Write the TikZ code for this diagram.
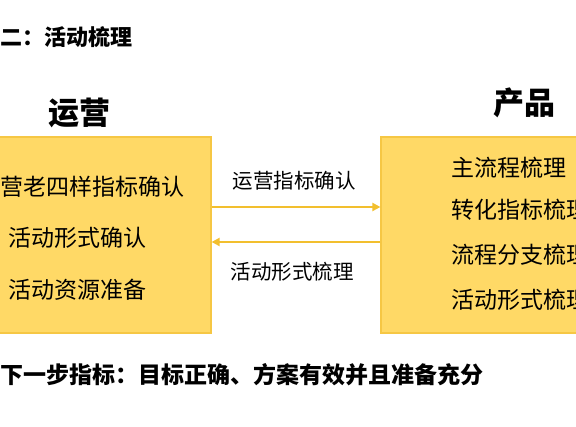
\documentclass[tikz,border=0pt]{standalone}
\usepackage{fontspec}
\newfontfamily\cjk{Noto Sans CJK SC}
\usetikzlibrary{arrows.meta}
\definecolor{boxfill}{HTML}{FFD966}
\definecolor{boxline}{HTML}{F6C744}
\definecolor{flowline}{HTML}{F2BF2E}
\tikzset{
  lane/.style={draw=boxline,fill=boxfill,line width=1.2pt,minimum height=196pt,inner sep=0pt},
  head/.style={font=\cjk\bfseries\fontsize{31}{34}\selectfont,inner sep=0pt},
  item/.style={font=\cjk\fontsize{23}{26}\selectfont,inner sep=0pt},
  tag/.style={font=\cjk\fontsize{20.5}{24}\selectfont,inner sep=0pt},
  note/.style={font=\cjk\bfseries\fontsize{22}{26}\selectfont,inner sep=0pt,anchor=west},
  flow/.style={draw=flowline,line width=2.6pt,-{Triangle[length=8pt,width=8pt]}}
}
\begin{document}
\begin{tikzpicture}[x=1pt,y=1pt]
    \useasboundingbox (0,0) rectangle (576,427);
    \clip (0,0) rectangle (576,427);
    %
    % -- Title and closing note
    \node[note] (title) at (0,390) {二：活动梳理};
    \node[note,font=\cjk\bfseries\fontsize{23}{26}\selectfont] (goal) at (0,52)
      {下一步指标：目标正确、方案有效并且准备充分};

    % -- The two lanes
    \node[lane,minimum width=220pt] (ops)  at (101,192) {};
    \node[lane,minimum width=220pt] (prod) at (491,192) {};
    \node[head] (opshead)  at (79,314)  {运营};
    \node[head] (prodhead) at (524,324) {产品};

    % -- Items of the operations lane
    \node[item] (ops1) at (93,240) {营老四样指标确认};
    \node[item] (ops2) at (78,189) {活动形式确认};
    \node[item] (ops3) at (78,137) {活动资源准备};

    % -- Items of the product lane
    \node[item,anchor=west] (prod1) at (451,259) {主流程梳理};
    \node[item,anchor=west] (prod2) at (451,217) {转化指标梳理};
    \node[item,anchor=west] (prod3) at (451,172) {流程分支梳理};
    \node[item,anchor=west] (prod4) at (451,127) {活动形式梳理};

    % -- Hand-overs between the lanes
    \draw[flow] ([yshift=28pt]ops.east) -- ([yshift=28pt]prod.west);
    \draw[flow] ([yshift=-7pt]prod.west) -- ([yshift=-7pt]ops.east);
    \node[tag] (up)   at (294,246) {运营指标确认};
    \node[tag] (down) at (292,155) {活动形式梳理};
\end{tikzpicture}
\end{document}
